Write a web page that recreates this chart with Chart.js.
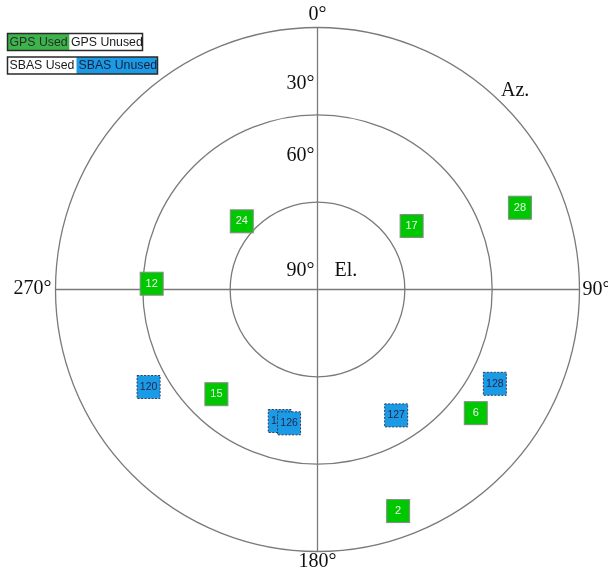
<!DOCTYPE html>
<html>
<head>
<meta charset="utf-8">
<script src="https://cdn.jsdelivr.net/npm/chart.js@4/dist/chart.umd.min.js"></script>
<style>
html,body{margin:0;padding:0;background:#fff;}
canvas{display:block;}
</style>
</head>
<body>
<canvas id="c" width="608" height="569"></canvas>
<script>
// ---- data ----
const gpsPrn = ['28', '17', '24', '12', '15', '6', '2'];
const gpsAz  = [68, 56, 312, 272, 224, 128, 160];
const gpsEl  = [15, 51, 55, 33, 40, 21, 9];

const sbasPrn = ['120', '125', '126', '127', '128'];
const sbasAz  = [240, 196, 192, 148, 118];
const sbasEl  = [23, 43, 43, 39, 21];

const elevTicks = [0, 30, 60, 90];
const elevLabels = ['30°', '60°', '90°'];
const azLabels = ['0°', '90°', '180°', '270°'];

function toXY(az, el) {
  const r = 90 - el, a = az * Math.PI / 180;
  return { x: r * Math.sin(a), y: r * Math.cos(a) };
}
const gpsData = gpsAz.map((a, i) => toXY(a, gpsEl[i]));
const sbasData = sbasAz.map((a, i) => toXY(a, sbasEl[i]));

const SERIF = '"Liberation Serif", "DejaVu Serif", serif';
const SANS = '"Liberation Sans", Arial, sans-serif';

const skyPlugin = {
  id: 'sky',
  beforeDatasetsDraw(chart) {
    const ctx = chart.ctx, xs = chart.scales.x, ys = chart.scales.y;
    const cx = xs.getPixelForValue(0), cy = ys.getPixelForValue(0);
    const R = xs.getPixelForValue(90) - cx;
    ctx.save();
    ctx.strokeStyle = '#7a7a7a';
    ctx.lineWidth = 1.3;
    elevTicks.slice(0, 3).forEach(el => {
      const r = xs.getPixelForValue(90 - el) - cx;
      ctx.beginPath();
      ctx.arc(cx, cy, r, 0, Math.PI * 2);
      ctx.stroke();
    });
    ctx.beginPath();
    ctx.moveTo(cx, cy - R); ctx.lineTo(cx, cy + R);
    ctx.moveTo(cx - R, cy); ctx.lineTo(cx + R, cy);
    ctx.stroke();

    ctx.fillStyle = '#111';
    ctx.font = '20px ' + SERIF;
    ctx.textBaseline = 'middle';
    ctx.textAlign = 'center';
    ctx.fillText(azLabels[0], cx, cy - R - 13);
    ctx.fillText(azLabels[2], cx, cy + R + 10);
    ctx.textAlign = 'right';
    ctx.fillText(azLabels[3], cx - R - 4, cy - 1);
    ctx.textAlign = 'left';
    ctx.fillText(azLabels[1], cx + R + 3, cy);
    ctx.textAlign = 'right';
    ctx.fillText(elevLabels[0], cx - 3, 84);
    ctx.fillText(elevLabels[1], cx - 3, 155.5);
    ctx.fillText(elevLabels[2], cx - 3, 271);
    ctx.textAlign = 'left';
    ctx.fillText('El.', cx + 17, 271);
    ctx.fillText('Az.', 501, 91);
    ctx.restore();
  },
  afterDatasetsDraw(chart) {
    const ctx = chart.ctx;
    const styles = [
      { fill: '#00c800', stroke: '#8a8a8a', dash: [], text: '#f2f2f2', labels: gpsPrn },
      { fill: '#1b9be6', stroke: '#333a55', dash: [2, 1.5], text: '#23264d', labels: sbasPrn }
    ];
    ctx.save();
    chart.data.datasets.forEach((ds, di) => {
      const meta = chart.getDatasetMeta(di);
      const st = styles[di];
      meta.data.forEach((pt, i) => {
        const s = 23;
        const x0 = pt.x - s / 2, y0 = pt.y - s / 2;
        ctx.setLineDash([]);
        ctx.fillStyle = st.fill;
        ctx.fillRect(x0, y0, s, s);
        ctx.setLineDash(st.dash);
        ctx.strokeStyle = st.stroke;
        ctx.lineWidth = 1;
        ctx.strokeRect(x0, y0, s, s);
        ctx.setLineDash([]);
        ctx.fillStyle = st.text;
        ctx.font = (di === 0 ? '11px ' : '10.5px ') + SANS;
        ctx.textAlign = 'center';
        ctx.textBaseline = 'middle';
        ctx.fillText(st.labels[i], pt.x, pt.y);
      });
    });
    ctx.restore();
  },
  afterDraw(chart) {
    const ctx = chart.ctx;
    ctx.save();
    ctx.font = '12.3px ' + SANS;
    ctx.textBaseline = 'middle';
    ctx.textAlign = 'left';
    // row 1
    ctx.fillStyle = '#3cb44b';
    ctx.fillRect(7.5, 33.5, 62, 17);
    ctx.fillStyle = '#fff';
    ctx.fillRect(69.5, 33.5, 73, 17);
    ctx.strokeStyle = '#2a2a2a';
    ctx.lineWidth = 1.5;
    ctx.strokeRect(7.5, 33.5, 135, 17);
    ctx.fillStyle = '#2b2b2b';
    ctx.fillText('GPS Used', 9.5, 42.5);
    ctx.fillStyle = '#1a1a1a';
    ctx.fillText('GPS Unused', 71, 42.5);
    // row 2
    ctx.fillStyle = '#fff';
    ctx.fillRect(7.5, 57, 69, 17);
    ctx.fillStyle = '#1b9be6';
    ctx.fillRect(76.5, 57, 81, 17);
    ctx.strokeRect(7.5, 57, 150, 17);
    ctx.fillStyle = '#1a1a1a';
    ctx.fillText('SBAS Used', 9.5, 66);
    ctx.fillStyle = '#1c1f3a';
    ctx.fillText('SBAS Unused', 78.5, 66);
    ctx.restore();
  }
};

new Chart(document.getElementById('c'), {
  type: 'scatter',
  data: {
    datasets: [
      { label: 'GPS Used', data: gpsData, pointStyle: 'rect', pointRadius: 15,
        backgroundColor: '#00c800', borderColor: '#00c800', borderWidth: 0 },
      { label: 'SBAS Unused', data: sbasData, pointStyle: 'rect', pointRadius: 15,
        backgroundColor: '#1b9be6', borderColor: '#1b9be6', borderWidth: 0 }
    ]
  },
  options: {
    responsive: false,
    animation: false,
    layout: { padding: { left: 55.5, right: 28.5, top: 27.5, bottom: 17.5 } },
    scales: {
      x: { type: 'linear', min: -90, max: 90, display: false },
      y: { type: 'linear', min: -90, max: 90, display: false }
    },
    plugins: { legend: { display: false }, tooltip: { enabled: false } }
  },
  plugins: [skyPlugin]
});
</script>
</body>
</html>
